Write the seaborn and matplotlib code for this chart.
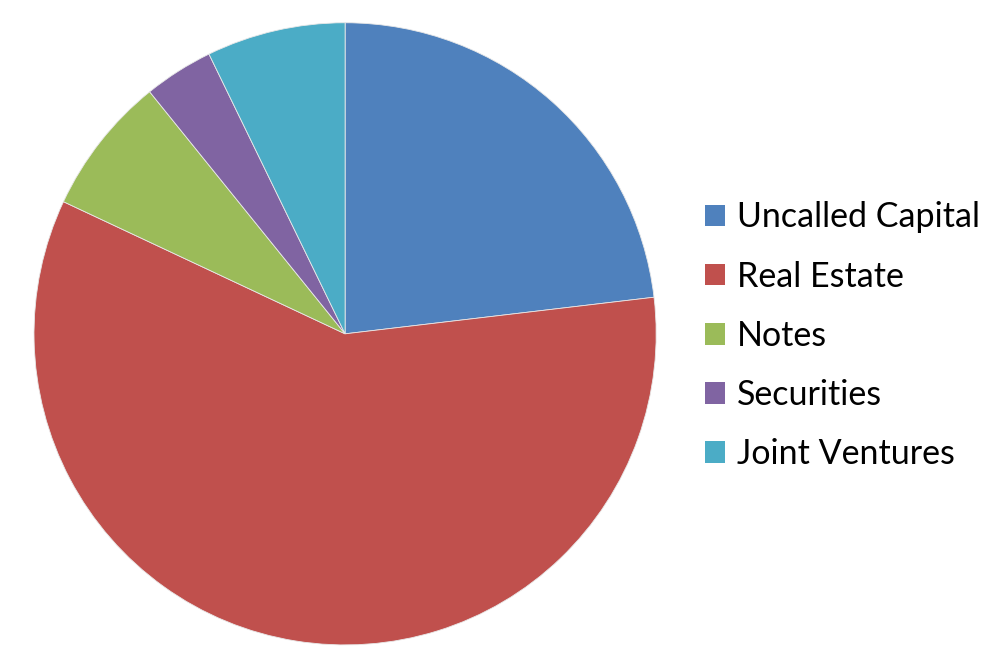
import matplotlib
matplotlib.use("Agg")
import matplotlib.pyplot as plt
import matplotlib.patches as mpatches
import seaborn as sns

# slice shares (percent)
categories = ['Uncalled Capital', 'Real Estate', 'Notes', 'Securities', 'Joint Ventures']
shares = [23.1, 58.8, 7.2, 3.6, 7.2]
colors = ['#4F81BD', '#C0504D', '#9BBB59', '#8064A2', '#4BACC6']

sns.set_theme(style='white')
plt.rcParams['font.family'] = ['Lato', 'DejaVu Sans']

fig = plt.figure(figsize=(10.02, 6.69), dpi=100)
ax = fig.add_axes([0.0339, 0.036, 0.621, 0.930])

wedges, _ = ax.pie(shares, colors=colors, startangle=90, counterclock=False,
                   wedgeprops=dict(edgecolor='#E8E8E8', linewidth=0.6))
ax.set_xlim(-1, 1)
ax.set_ylim(-1, 1)
ax.set_aspect('equal')
ax.axis('off')

handles = [mpatches.Patch(facecolor=c, edgecolor='none') for c in colors]
leg = fig.legend(handles, categories, loc='center left', bbox_to_anchor=(0.673, 0.498),
                 frameon=False, fontsize=24.5, handlelength=0.6, handleheight=0.6,
                 handletextpad=0.33, labelspacing=0.8)
for t in leg.get_texts():
    t.set_color('black')

fig.savefig('out.png', dpi=100, facecolor='white')
